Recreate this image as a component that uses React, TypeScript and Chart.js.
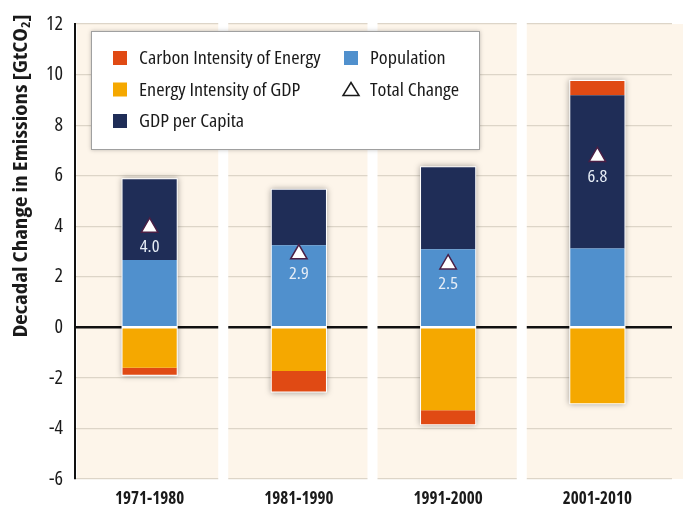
import React, { useEffect, useRef } from "react";
import { Chart, registerables } from "chart.js";

Chart.register(...registerables);

const categories = ["1971-1980", "1981-1990", "1991-2000", "2001-2010"];
const population = [2.66, 3.25, 3.09, 3.12];
const gdpPerCapita = [3.2, 2.19, 3.24, 6.06];
const energyIntensity = [-1.6, -1.73, -3.28, -3.0];
const carbonIntensity = [-0.28, -0.81, -0.55, 0.57];
const totalChange = [3.95, 2.9, 2.5, 6.75];
const totalLabels = ["4.0", "2.9", "2.5", "6.8"];
const yMin = -6;
const yMax = 12;
const yStep = 2;

const legendLeft = [
  { label: "Carbon Intensity of Energy", color: "#e04a14" },
  { label: "Energy Intensity of GDP", color: "#f5a800" },
  { label: "GDP per Capita", color: "#1f2d57" },
];
const legendRight = [
  { label: "Population", color: "#5090cd" },
  { label: "Total Change", color: null },
];

const FONT = "'Open Sans', 'DejaVu Sans Condensed', sans-serif";
const PANEL = "#fdf5ea";

function stretchedText(ctx: any, text: string, x: number, y: number, sx: number) {
  ctx.save();
  ctx.translate(x, y);
  ctx.scale(sx, 1);
  ctx.fillText(text, 0, 0);
  ctx.restore();
}

const decorPlugin = {
  id: "decor",
  beforeDraw(chart: any) {
    const { ctx, chartArea: a } = chart;
    ctx.save();
    ctx.fillStyle = PANEL;
    ctx.fillRect(a.left + 2, a.top, chart.width - a.left - 2, a.bottom - a.top);
    ctx.restore();
  },
  beforeDatasetsDraw(chart: any) {
    const { ctx, chartArea: a } = chart;
    const n = categories.length;
    const w = (a.right - a.left) / n;
    ctx.save();
    ctx.fillStyle = "#ffffff";
    for (let k = 1; k < n; k++) {
      ctx.fillRect(a.left + k * w - 6, a.top - 1, 10, a.bottom - a.top + 2);
    }
    for (let j = 0; j < n; j++) {
      let top = Infinity, bottom = -Infinity, x = 0, bw = 0;
      for (let d = 0; d < 4; d++) {
        const el: any = chart.getDatasetMeta(d).data[j];
        if (!el) continue;
        top = Math.min(top, el.y, el.base);
        bottom = Math.max(bottom, el.y, el.base);
        x = el.x;
        bw = el.width;
      }
      ctx.shadowColor = "rgba(0,0,0,0.35)";
      ctx.shadowBlur = 6;
      ctx.fillStyle = "#ffffff";
      ctx.fillRect(x - bw / 2 - 1, top - 1, bw + 2, bottom - top + 2);
    }
    ctx.restore();
  },
  afterDatasetsDraw(chart: any) {
    const { ctx } = chart;
    const meta = chart.getDatasetMeta(4);
    ctx.save();
    ctx.fillStyle = "#e6edf6";
    ctx.font = `condensed 17px ${FONT}`;
    ctx.textAlign = "center";
    ctx.textBaseline = "middle";
    meta.data.forEach((p: any, i: number) => {
      stretchedText(ctx, totalLabels[i], p.x, p.y + 20, 1.08);
    });
    ctx.restore();
  },
  afterDraw(chart: any) {
    const { ctx } = chart;
    ctx.save();
    const bx = 91, by = 31, bw = 389, bh = 119;
    ctx.shadowColor = "rgba(0,0,0,0.25)";
    ctx.shadowBlur = 4;
    ctx.fillStyle = "#ffffff";
    ctx.fillRect(bx, by, bw, bh);
    ctx.shadowBlur = 0;
    ctx.shadowColor = "transparent";
    ctx.strokeStyle = "#a0a0a0";
    ctx.lineWidth = 1;
    ctx.strokeRect(bx + 0.5, by + 0.5, bw - 1, bh - 1);
    ctx.font = `condensed 18px ${FONT}`;
    ctx.textBaseline = "middle";
    ctx.textAlign = "left";
    const sx = 1.12;
    const rows = [58, 89.5, 121];
    legendLeft.forEach((it, i) => {
      ctx.fillStyle = it.color;
      ctx.fillRect(113, rows[i] - 7, 14, 14);
      ctx.fillStyle = "#1a1a1a";
      stretchedText(ctx, it.label, 139, rows[i] + 1, sx);
    });
    legendRight.forEach((it, i) => {
      if (it.color) {
        ctx.fillStyle = it.color;
        ctx.fillRect(344, rows[i] - 7, 14, 14);
      } else {
        ctx.beginPath();
        ctx.moveTo(351, rows[i] - 7);
        ctx.lineTo(359, rows[i] + 6);
        ctx.lineTo(343, rows[i] + 6);
        ctx.closePath();
        ctx.strokeStyle = "#1a1a1a";
        ctx.lineWidth = 1.5;
        ctx.stroke();
      }
      ctx.fillStyle = "#1a1a1a";
      stretchedText(ctx, it.label, 370, rows[i] + 1, sx);
    });
    // y-axis title
    ctx.translate(21, 176);
    ctx.rotate(-Math.PI / 2);
    const tsx = 1.15;
    ctx.scale(tsx, 1);
    const main = "Decadal Change in Emissions [GtCO";
    const big = `condensed bold 20px ${FONT}`;
    const small = `condensed bold 12px ${FONT}`;
    ctx.font = big;
    const wMain = ctx.measureText(main).width;
    const wEnd = ctx.measureText("]").width;
    ctx.font = small;
    const wSub = ctx.measureText("2").width;
    const total = wMain + wSub + wEnd;
    let cx = -total / 2;
    ctx.fillStyle = "#1a1a1a";
    ctx.textBaseline = "middle";
    ctx.font = big;
    ctx.fillText(main, cx, 0);
    cx += wMain;
    ctx.font = small;
    ctx.fillText("2", cx, 6);
    cx += wSub;
    ctx.font = big;
    ctx.fillText("]", cx, 0);
    ctx.restore();
  },
};

export default function App() {
  const ref = useRef<HTMLCanvasElement | null>(null);
  useEffect(() => {
    if (!ref.current) return;
    const chart = new Chart(ref.current, {
      type: "bar",
      data: {
        labels: categories,
        datasets: [
          { label: "Population", data: population, backgroundColor: "#5090cd", order: 2 },
          { label: "GDP per Capita", data: gdpPerCapita, backgroundColor: "#1f2d57", order: 2 },
          { label: "Energy Intensity of GDP", data: energyIntensity, backgroundColor: "#f5a800", order: 2 },
          { label: "Carbon Intensity of Energy", data: carbonIntensity, backgroundColor: "#e04a14", order: 2 },
          {
            type: "line",
            label: "Total Change",
            data: totalChange,
            stack: "totals",
            showLine: false,
            pointStyle: "triangle",
            pointRadius: 9.5,
            pointBackgroundColor: "#ffffff",
            pointBorderColor: "#4a1f45",
            pointBorderWidth: 1.5,
            order: 1,
          } as any,
        ],
      },
      options: {
        responsive: false,
        animation: false,
        events: [],
        layout: { padding: { top: 18, right: 2, left: 0, bottom: 0 } },
        plugins: { legend: { display: false }, tooltip: { enabled: false } },
        datasets: { bar: { barPercentage: 0.363, categoryPercentage: 1, borderWidth: 0 } },
        scales: {
          x: {
            stacked: true,
            grid: { display: false, drawTicks: false },
            border: { display: false },
            ticks: {
              font: { family: FONT, size: 17, weight: "condensed bold" } as any,
              color: "#1a1a1a",
              padding: 10,
            },
            afterFit(scale: any) {
              scale.height = 28;
            },
          },
          y: {
            stacked: true,
            min: yMin,
            max: yMax,
            ticks: {
              stepSize: yStep,
              font: { family: FONT, size: 20, weight: "condensed" } as any,
              color: "#1a1a1a",
              padding: 12,
            },
            grid: {
              drawTicks: false,
              color: (c: any) => (c.tick && c.tick.value === 0 ? "#111111" : "#ddd5c8"),
              lineWidth: (c: any) => (c.tick && c.tick.value === 0 ? 2.5 : 1.2),
            },
            border: { display: true, color: "#111111", width: 2 },
            afterFit(scale: any) {
              scale.width = 75;
            },
          },
        },
      },
      plugins: [decorPlugin],
    });
    return () => chart.destroy();
  }, []);
  return (
    <div style={{ position: "fixed", left: 0, top: 0, width: 683, height: 507, background: "#ffffff" }}>
      <canvas ref={ref} width={683} height={507} style={{ display: "block" }} />
    </div>
  );
}
